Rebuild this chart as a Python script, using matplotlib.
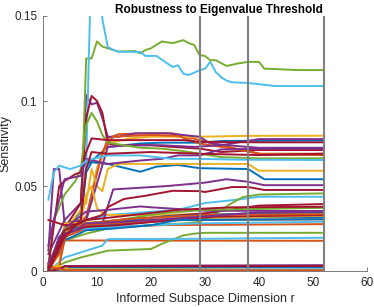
import matplotlib
matplotlib.use("Agg")
import matplotlib.pyplot as plt
from matplotlib.ticker import FuncFormatter

plt.rcParams['font.family'] = ['Liberation Sans', 'DejaVu Sans']

# Data: each line is a list of (r, sensitivity) vertices
BLUE = [
    [(1, 0.001), (3, 0.02), (7, 0.035), (8, 0.062), (12, 0.073), (18, 0.075), (22, 0.0755), (29, 0.0755), (33, 0.0765), (52, 0.0768)],
    [(1, 0.0), (3, 0.015), (7, 0.03), (8, 0.058), (9, 0.064), (12, 0.063), (16, 0.06), (18, 0.0584), (21, 0.0614), (25, 0.0624), (29, 0.0605), (38, 0.060), (41, 0.054), (52, 0.054)],
    [(1, 0.0), (4, 0.022), (8, 0.026), (12, 0.027), (20, 0.029), (25, 0.031), (29, 0.0315), (52, 0.0316)],
    [(1, 0.0), (4, 0.002), (52, 0.0022)],
    [(1, 0.0), (3, 0.012), (5, 0.025), (12, 0.028), (22, 0.032), (30, 0.033), (40, 0.034), (52, 0.0345)],
    [(1, 0.0), (4, 0.018), (8, 0.024), (13, 0.025), (20, 0.027), (25, 0.030), (52, 0.0305)],
]
ORANGE = [
    [(1, 0.002), (4, 0.02), (8, 0.03), (10, 0.06), (12, 0.078), (14, 0.0805), (20, 0.081), (24, 0.081), (29, 0.077), (33, 0.074), (40, 0.069), (52, 0.069)],
    [(1, 0.001), (4, 0.022), (8, 0.032), (11, 0.07), (13, 0.079), (20, 0.08), (25, 0.0795), (29, 0.075), (35, 0.072), (41, 0.0685), (52, 0.0682)],
    [(1, 0.0), (3, 0.004), (4, 0.018), (52, 0.0178)],
    [(1, 0.0), (4, 0.02), (8, 0.025), (14, 0.026), (22, 0.027), (52, 0.0276)],
    [(1, 0.003), (2, 0.001), (3, 0.002), (4, 0.021), (8, 0.027), (12, 0.028), (20, 0.029), (26, 0.030), (52, 0.0304)],
    [(1, 0.001), (3, 0.01), (5, 0.026), (9, 0.028), (15, 0.0305), (24, 0.032), (30, 0.033), (52, 0.0335)],
    [(1, 0.004), (2, 0.002), (4, 0.0005), (52, 0.0005)],
]
YELLOW = [
    [(1, 0.0), (4, 0.025), (8, 0.03), (10, 0.06), (12, 0.075), (16, 0.078), (20, 0.079), (29, 0.079), (38, 0.0795), (52, 0.0796)],
    [(1, 0.0), (4, 0.024), (8, 0.04), (9, 0.06), (10, 0.05), (11, 0.047), (12, 0.06), (14, 0.063), (26, 0.063), (38, 0.063), (40, 0.059), (52, 0.059)],
    [(1, 0.0), (4, 0.02), (7, 0.028), (8, 0.045), (9, 0.05), (10, 0.037), (11, 0.034), (12, 0.033), (20, 0.033), (30, 0.0335), (52, 0.034)],
    [(1, 0.001), (3, 0.004), (4, 0.028), (12, 0.029), (25, 0.031), (52, 0.0325)],
    [(1, 0.002), (3, 0.003), (5, 0.001), (52, 0.0008)],
]
PURPLE = [
    [(1, 0.01), (4, 0.03), (7, 0.04), (8, 0.1035), (9, 0.098), (10, 0.099), (11, 0.09), (12, 0.079), (14, 0.079), (17, 0.081), (23, 0.081), (29, 0.079), (31, 0.075), (36, 0.0735), (40, 0.0725), (52, 0.0725)],
    [(1, 0.012), (2, 0.06), (3, 0.06), (4, 0.028), (8, 0.03), (12, 0.073), (16, 0.074), (22, 0.074), (28, 0.073), (33, 0.074), (40, 0.0776), (52, 0.0776)],
    [(1, 0.005), (4, 0.022), (11, 0.028), (13, 0.048), (23, 0.050), (30, 0.052), (34, 0.054), (38, 0.0525), (41, 0.0505), (52, 0.0505)],
    [(1, 0.015), (2, 0.03), (4, 0.054), (7, 0.056), (8, 0.066), (12, 0.063), (18, 0.065), (22, 0.066), (25, 0.068), (29, 0.068), (33, 0.0715), (41, 0.072), (52, 0.072)],
    [(1, 0.004), (4, 0.025), (8, 0.035), (12, 0.036), (18, 0.038), (20, 0.0375), (30, 0.0355), (52, 0.0353)],
    [(1, 0.0), (3, 0.001), (4, 0.003), (52, 0.0035)],
    [(1, 0.002), (3, 0.02), (6, 0.024), (8, 0.028), (15, 0.029), (25, 0.031), (40, 0.0345), (52, 0.035)],
]
GREEN = [
    [(1, 0.002), (3, 0.02), (6, 0.03), (7, 0.03), (8, 0.125), (9, 0.125), (10, 0.135), (11, 0.132), (12, 0.131), (13, 0.13), (14, 0.129), (17, 0.1294), (18, 0.128), (19, 0.13), (20, 0.131), (22, 0.135), (24, 0.134), (26, 0.1358), (27, 0.134), (28, 0.133), (29, 0.127), (30, 0.1265), (31, 0.124), (32, 0.124), (34, 0.1206), (36, 0.122), (38, 0.123), (40, 0.123), (41, 0.119), (43, 0.1188), (47, 0.1182), (52, 0.1182)],
    [(1, 0.002), (2, 0.03), (4, 0.045), (6, 0.053), (7, 0.06), (8, 0.086), (9, 0.093), (10, 0.088), (11, 0.08), (12, 0.0755), (13, 0.075), (18, 0.0725), (22, 0.072), (26, 0.0705), (29, 0.069), (33, 0.067), (40, 0.0663), (52, 0.0663)],
    [(1, 0.0), (4, 0.005), (7, 0.008), (12, 0.012), (20, 0.013), (22, 0.016), (26, 0.021), (28, 0.022), (30, 0.0225), (52, 0.0225)],
    [(1, 0.001), (4, 0.018), (8, 0.022), (12, 0.025), (20, 0.027), (26, 0.028), (29, 0.029), (31, 0.032), (33, 0.036), (35, 0.040), (37, 0.0435), (40, 0.045), (52, 0.0457)],
    [(1, 0.003), (3, 0.012), (4, 0.025), (8, 0.028), (14, 0.03), (22, 0.034), (30, 0.036), (52, 0.0372)],
    [(1, 0.001), (4, 0.0006), (52, 0.0006)],
]
LIGHTBLUE = [
    [(1, 0.001), (4, 0.02), (7, 0.03), (8, 0.0625), (9, 0.19), (10, 0.2), (11, 0.148), (12, 0.1318), (13, 0.13), (14, 0.129), (18, 0.1288), (19, 0.1265), (21, 0.1265), (24, 0.12), (25, 0.121), (26, 0.116), (27, 0.1153), (29, 0.118), (30, 0.119), (31, 0.123), (32, 0.117), (33, 0.114), (34, 0.112), (35, 0.111), (38, 0.1106), (43, 0.1088), (52, 0.1088)],
    [(1, 0.002), (4, 0.02), (8, 0.03), (12, 0.033), (25, 0.036), (30, 0.040), (36, 0.042), (40, 0.0437), (52, 0.0437)],
    [(1, 0.0), (4, 0.008), (8, 0.012), (11, 0.015), (12, 0.0188), (29, 0.019), (52, 0.0196)],
    [(1, 0.001), (3, 0.02), (5, 0.024), (8, 0.025), (20, 0.027), (28, 0.028), (52, 0.029)],
    [(1, 0.042), (2, 0.058), (3, 0.062), (5, 0.06), (7, 0.062), (8, 0.065), (12, 0.068), (18, 0.068), (24, 0.066), (29, 0.066), (36, 0.0655), (52, 0.0653)],
    [(1, 0.0), (52, 0.001)],
]
RED = [
    [(1, 0.003), (4, 0.025), (7, 0.04), (8, 0.09), (9, 0.103), (10, 0.1), (11, 0.093), (12, 0.075), (14, 0.074), (20, 0.074), (24, 0.073), (29, 0.072), (33, 0.070), (40, 0.0712), (52, 0.0712)],
    [(1, 0.003), (3, 0.05), (4, 0.053), (6, 0.057), (7, 0.058), (8, 0.07), (9, 0.078), (12, 0.077), (18, 0.077), (26, 0.077), (29, 0.076), (40, 0.0757), (52, 0.0757)],
    [(1, 0.002), (4, 0.025), (8, 0.03), (11, 0.033), (12, 0.0376), (15, 0.0424), (19, 0.0443), (24, 0.0472), (29, 0.047), (30, 0.0465), (35, 0.0494), (38, 0.0494), (41, 0.0477), (52, 0.0477)],
    [(1, 0.03), (2, 0.029), (3, 0.028), (4, 0.027), (8, 0.028), (14, 0.03), (22, 0.032), (30, 0.034), (40, 0.0385), (52, 0.0394)],
    [(1, 0.001), (4, 0.022), (8, 0.026), (14, 0.027), (24, 0.030), (32, 0.032), (52, 0.0329)],
    [(1, 0.0), (3, 0.001), (4, 0.0028), (52, 0.003)],
    [(1, 0.0), (4, 0.02), (7, 0.03), (8, 0.06), (9, 0.07), (12, 0.069), (20, 0.07), (29, 0.069), (40, 0.0682), (52, 0.069)],
    [(1, 0.002), (4, 0.024), (8, 0.03), (14, 0.032), (25, 0.036), (35, 0.0375), (52, 0.0378)],
]
THRESHOLD_R = [29, 38, 52]

# MATLAB default colour order
groups = [
    (BLUE, (0, 0.447, 0.741)),
    (ORANGE, (0.85, 0.325, 0.098)),
    (YELLOW, (0.929, 0.694, 0.125)),
    (PURPLE, (0.494, 0.184, 0.556)),
    (GREEN, (0.466, 0.674, 0.188)),
    (LIGHTBLUE, (0.301, 0.745, 0.933)),
    (RED, (0.635, 0.078, 0.184)),
]

fig = plt.figure(figsize=(3.74, 3.07), dpi=100)
ax = fig.add_axes([0.115, 0.117, 0.866, 0.831])

# interleave so colours overlap like the original cycling order
n_max = max(len(g) for g, _ in groups)
for i in range(n_max):
    for lines, col in groups:
        if i < len(lines):
            r = [p[0] for p in lines[i]]
            s = [p[1] for p in lines[i]]
            ax.plot(r, s, color=col, lw=1.4, solid_joinstyle='round')

for xv in THRESHOLD_R:
    ax.axvline(xv, color=(0.5, 0.5, 0.5), lw=1.5)

ax.set_xlim(0, 60)
ax.set_ylim(0, 0.15)
ax.set_xticks(range(0, 61, 10))
ax.set_yticks([0, 0.05, 0.1, 0.15])
ax.yaxis.set_major_formatter(FuncFormatter(lambda v, p: '%g' % v))

for side in ['top', 'right']:
    ax.spines[side].set_visible(False)
for side in ['left', 'bottom']:
    ax.spines[side].set_color('#666666')
    ax.spines[side].set_linewidth(0.6)
ax.tick_params(direction='in', length=3, width=0.6, color='#666666',
               labelsize=8.5, labelcolor='#262626', pad=4)

ax.set_title('Robustness to Eigenvalue Threshold', fontsize=8.5, fontweight='bold',
             pad=2, x=0.543)
ax.set_xlabel('Informed Subspace Dimension r', fontsize=9, color='#262626', labelpad=3)
ax.set_ylabel('Sensitivity', fontsize=9, color='#262626', labelpad=2)

fig.savefig('out.png', dpi=100)
